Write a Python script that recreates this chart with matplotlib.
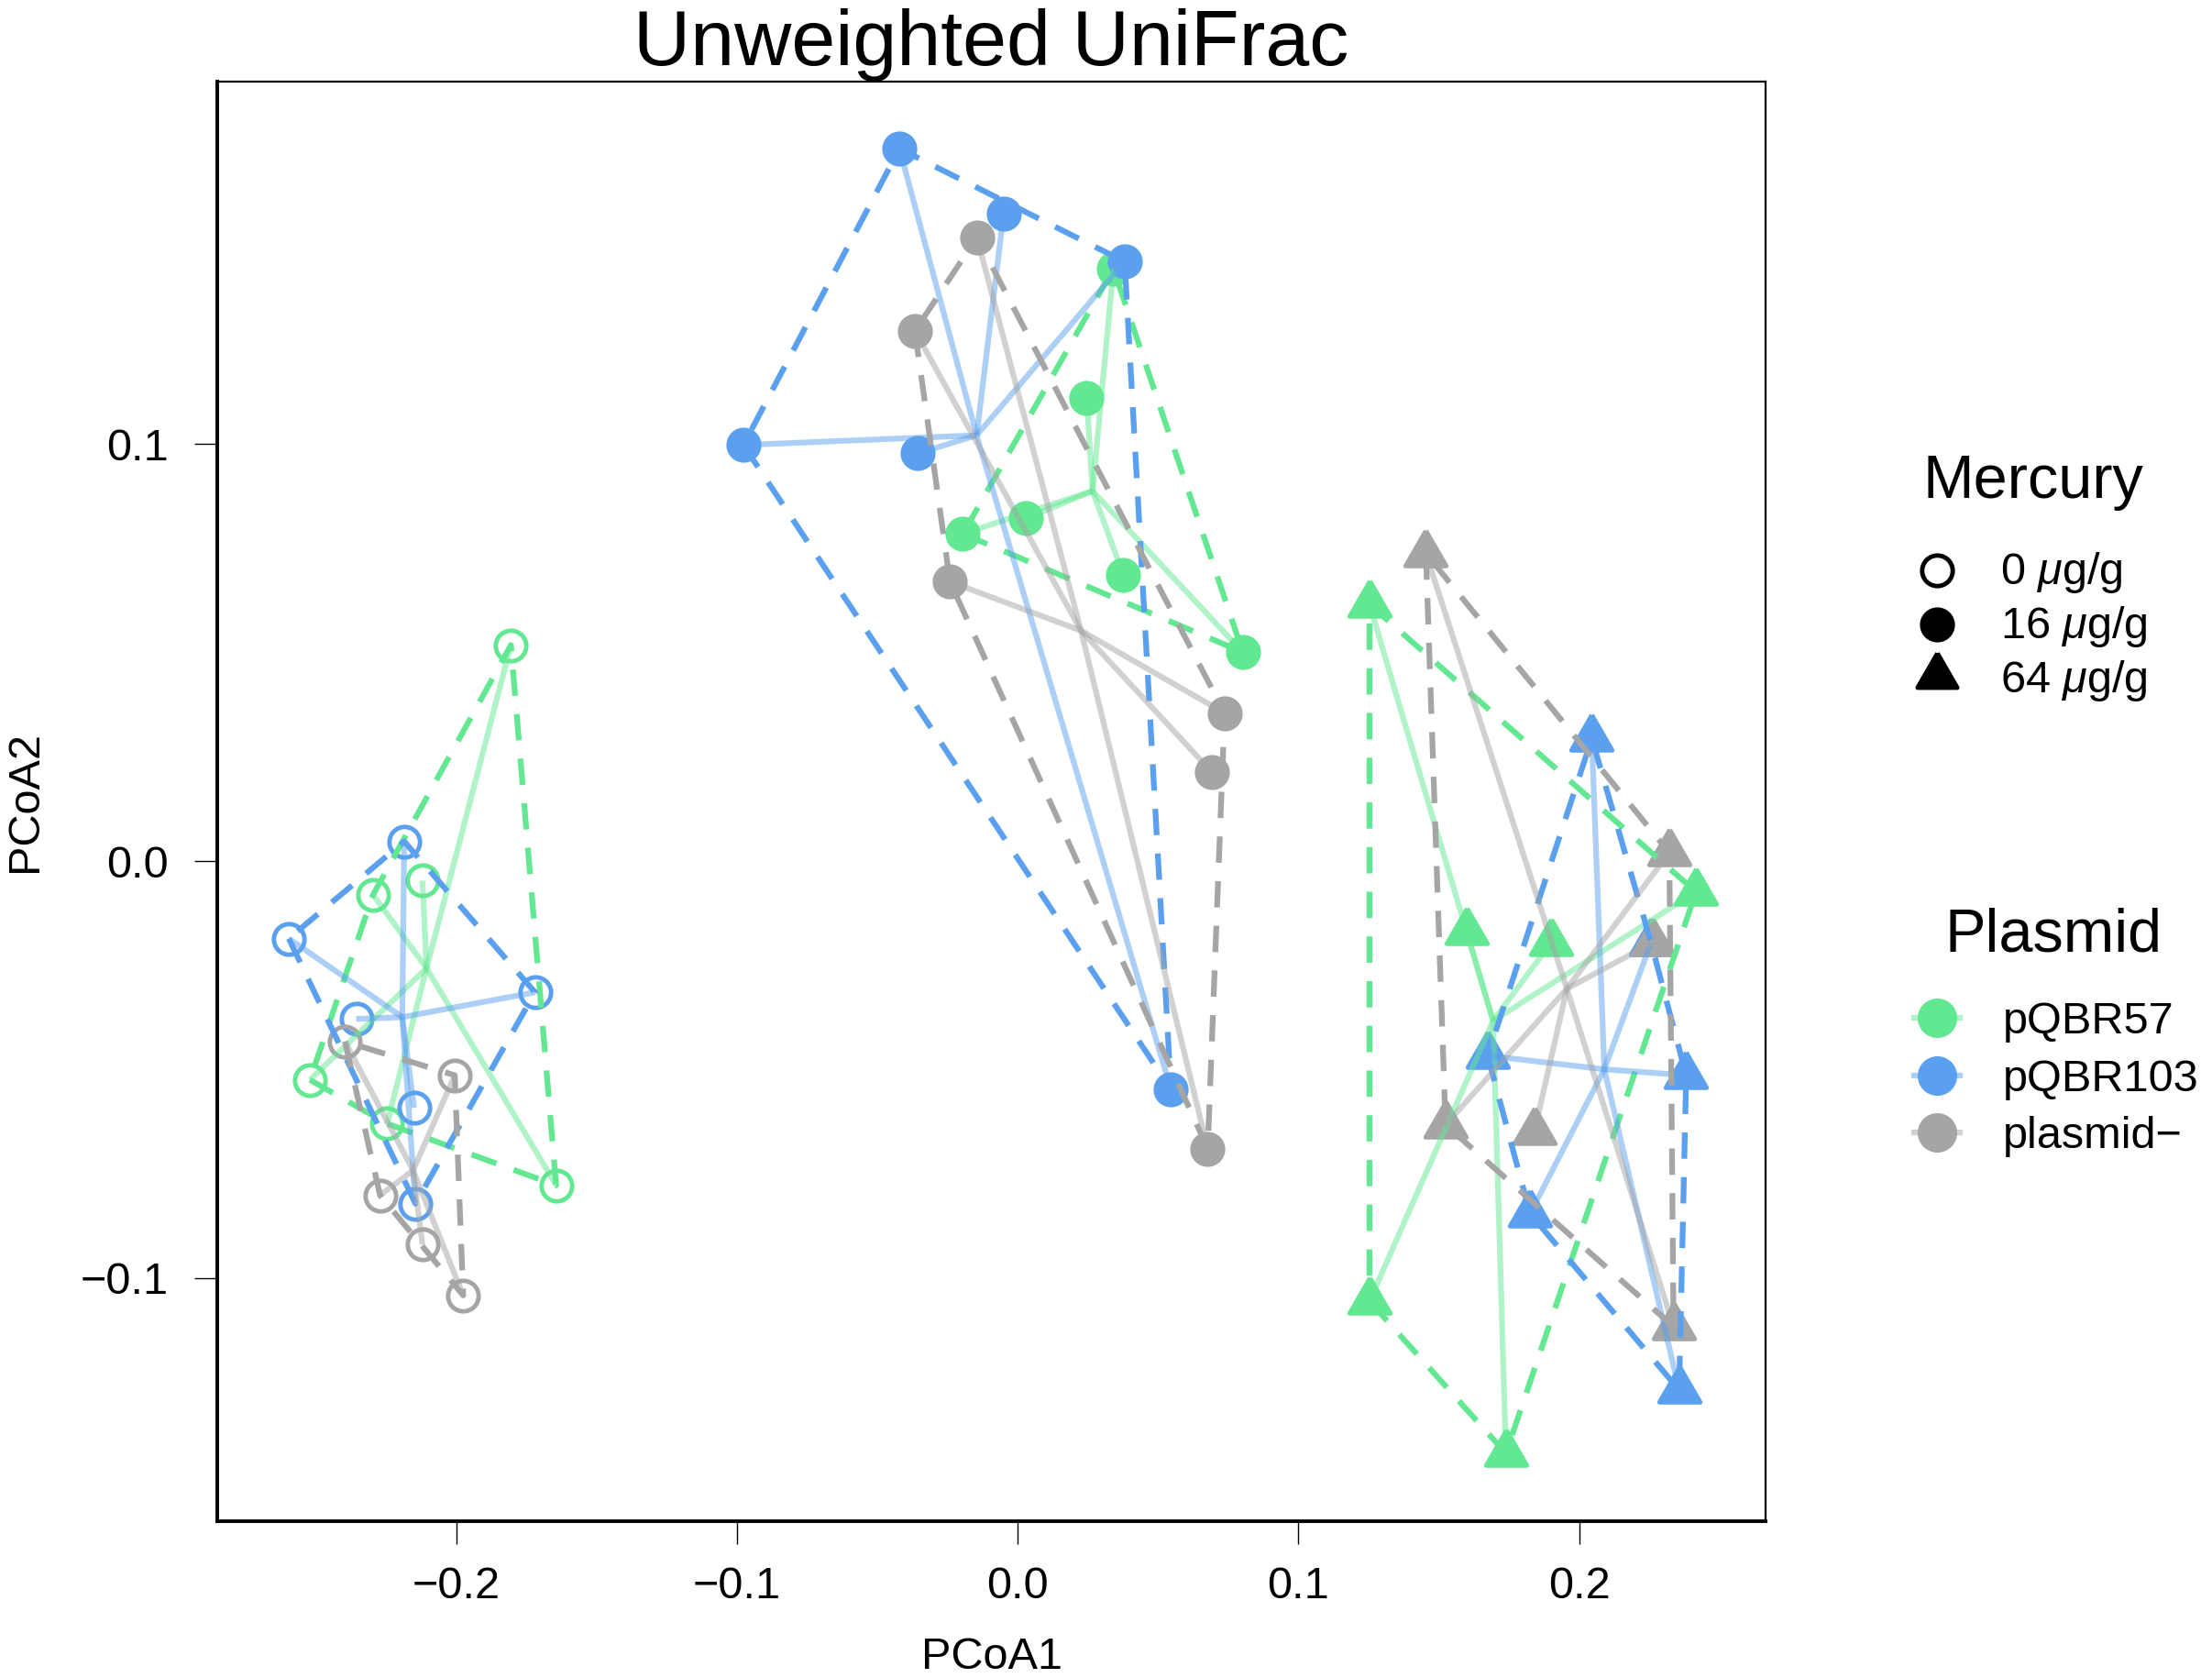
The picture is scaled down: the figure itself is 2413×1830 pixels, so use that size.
import numpy as np
import matplotlib
matplotlib.use("Agg")
import matplotlib.pyplot as plt
from matplotlib.ticker import FuncFormatter

plt.rcParams["font.family"] = ["Liberation Sans", "DejaVu Sans"]
plt.rcParams["mathtext.fontset"] = "custom"
plt.rcParams["mathtext.rm"] = "Liberation Sans"
plt.rcParams["mathtext.it"] = "Liberation Sans:italic"

# ---- data (PCoA1, PCoA2) ----
plasmids = ["pQBR57", "pQBR103", "plasmid-"]
plasmid_labels = ["pQBR57", "pQBR103", "plasmid\u2212"]
mercury_labels = [r"0 $\mu$g/g", r"16 $\mu$g/g", r"64 $\mu$g/g"]

# 0 ug/g
hg0_pc1 = [-0.1805, -0.2296, -0.2120, -0.2521, -0.2246, -0.1644,
           -0.2185, -0.2596, -0.2356, -0.1719, -0.2150, -0.2145,
           -0.2396, -0.2005, -0.2271, -0.2120, -0.1975]
hg0_pc2 = [0.0518, -0.0081, -0.0047, -0.0525, -0.0630, -0.0778,
           0.0047, -0.0186, -0.0379, -0.0315, -0.0592, -0.0822,
           -0.0433, -0.0514, -0.0802, -0.0920, -0.1042]
hg0_plasmid = ["pQBR57"] * 6 + ["pQBR103"] * 6 + ["plasmid-"] * 5

# 16 ug/g
hg16_pc1 = [0.0341, 0.0246, -0.0195, 0.0030, 0.0376, 0.0802,
            -0.0421, -0.0050, 0.0381, -0.0977, -0.0356, 0.0546,
            -0.0145, -0.0366, -0.0241, 0.0737, 0.0692, 0.0677]
hg16_pc2 = [0.1421, 0.1110, 0.0785, 0.0822, 0.0687, 0.0501,
            0.1709, 0.1553, 0.1438, 0.0998, 0.0978, -0.0548,
            0.1496, 0.1272, 0.0670, 0.0355, 0.0213, -0.0690]
hg16_plasmid = ["pQBR57"] * 6 + ["pQBR103"] * 6 + ["plasmid-"] * 6

# 64 ug/g
hg64_pc1 = [0.1253, 0.1599, 0.1900, 0.2416, 0.1253, 0.1739,
            0.2045, 0.2256, 0.1674, 0.2381, 0.1825, 0.2356,
            0.1454, 0.2321, 0.2261, 0.1524, 0.1840, 0.2336]
hg64_pc2 = [0.0616, -0.0169, -0.0196, -0.0074, -0.1056, -0.1421,
            0.0294, -0.0196, -0.0467, -0.0514, -0.0846, -0.1269,
            0.0738, 0.0020, -0.0196, -0.0633, -0.0650, -0.1117]
hg64_plasmid = ["pQBR57"] * 6 + ["pQBR103"] * 6 + ["plasmid-"] * 6

colors = {"pQBR57": "#63E892", "pQBR103": "#5AA0EF", "plasmid-": "#A5A5A5"}

# equilateral triangle like R's pch 17
tri = [(0, 1), (-0.866, -0.5), (0.866, -0.5), (0, 1)]

LW = 4.5


def convex_hull(pts):
    pts = sorted(set(pts))
    if len(pts) < 3:
        return pts

    def cross(o, a, b):
        return (a[0] - o[0]) * (b[1] - o[1]) - (a[1] - o[1]) * (b[0] - o[0])

    lower = []
    for p in pts:
        while len(lower) >= 2 and cross(lower[-2], lower[-1], p) <= 0:
            lower.pop()
        lower.append(p)
    upper = []
    for p in reversed(pts):
        while len(upper) >= 2 and cross(upper[-2], upper[-1], p) <= 0:
            upper.pop()
        upper.append(p)
    return lower[:-1] + upper[:-1]


def draw_level(ax, pc1, pc2, plas, marker, ms, filled):
    pc1 = np.array(pc1)
    pc2 = np.array(pc2)
    plas = np.array(plas)
    for p in plasmids:
        m = plas == p
        x, y = pc1[m], pc2[m]
        c = colors[p]
        ax.plot(x, y, ls="none", marker=marker, ms=ms,
                mfc=c if filled else "none", mec=c, mew=3.5, zorder=2)
        # dashed hull
        hull = convex_hull(list(zip(x, y)))
        hx = [h[0] for h in hull] + [hull[0][0]]
        hy = [h[1] for h in hull] + [hull[0][1]]
        ax.plot(hx, hy, color=c, lw=LW, ls="--", dashes=(4.6, 3.2), zorder=3)
        # spider from centroid
        cx, cy = x.mean(), y.mean()
        for xi, yi in zip(x, y):
            ax.plot([cx, xi], [cy, yi], color=c, lw=LW, alpha=0.5,
                    solid_capstyle="butt", zorder=3)


fig = plt.figure(figsize=(24.13, 18.30), dpi=100)
ax = fig.add_axes([0.0982, 0.0934, 0.700, 0.858])

draw_level(ax, hg0_pc1, hg0_pc2, hg0_plasmid, "o", 24, False)
draw_level(ax, hg16_pc1, hg16_pc2, hg16_plasmid, "o", 24, True)
draw_level(ax, hg64_pc1, hg64_pc2, hg64_plasmid, tri, 37, True)

ax.set_xlim(-0.2851, 0.2664)
ax.set_ylim(-0.1584, 0.187)
ax.set_xticks([-0.2, -0.1, 0.0, 0.1, 0.2])
ax.set_yticks([-0.1, 0.0, 0.1])
fmt = FuncFormatter(lambda v, pos: f"{v:.1f}".replace("-", "\u2212"))
ax.xaxis.set_major_formatter(fmt)
ax.yaxis.set_major_formatter(fmt)
ax.tick_params(length=18, width=1, labelsize=35, direction="out")
ax.tick_params(axis="x", pad=17)
ax.tick_params(axis="y", pad=20)
for s in ["left", "bottom"]:
    ax.spines[s].set_linewidth(2.8)
for s in ["top", "right"]:
    ax.spines[s].set_linewidth(1.6)

ax.set_xlabel("PCoA1", fontsize=35)
ax.set_ylabel("PCoA2", fontsize=35)
ax.xaxis.set_label_coords(0.5, -0.080)
ax.yaxis.set_label_coords(-0.1107, 0.5)
ax.set_title("Unweighted UniFrac", fontsize=62, pad=4.5)

# ---- legends drawn in pixel space ----
lax = fig.add_axes([0, 0, 1, 1])
lax.set_xlim(0, 2413)
lax.set_ylim(1830, 0)
lax.axis("off")

lax.text(2218, 543, "Mercury", fontsize=48, ha="center", va="baseline")
merc_markers = [("o", 24, "none"), ("o", 24, "black"), (tri, 36, "black")]
merc_rows = [622, 681, 737]
merc_base = [637, 696, 755]
for (mk, ms, fc), yr, yb, lab in zip(merc_markers, merc_rows, merc_base, mercury_labels):
    lax.plot([2113], [yr], marker=mk, ms=ms, mfc=fc, mec="black", mew=3.5, ls="none")
    lax.text(2182, yb, lab, fontsize=35, ha="left", va="baseline")

lax.text(2240, 1038, "Plasmid", fontsize=48, ha="center", va="baseline")
plas_rows = [1110, 1173, 1235]
plas_base = [1127, 1190, 1252]
for p, lab, yr, yb in zip(plasmids, plasmid_labels, plas_rows, plas_base):
    c = colors[p]
    lax.plot([2088, 2138], [yr, yr], color=c, lw=LW, alpha=0.5)
    lax.plot([2113], [yr], marker="o", ms=30, mfc=c, mec=c, ls="none")
    lax.text(2185, yb, lab, fontsize=35, ha="left", va="baseline")

fig.savefig("out.png", dpi=100)
